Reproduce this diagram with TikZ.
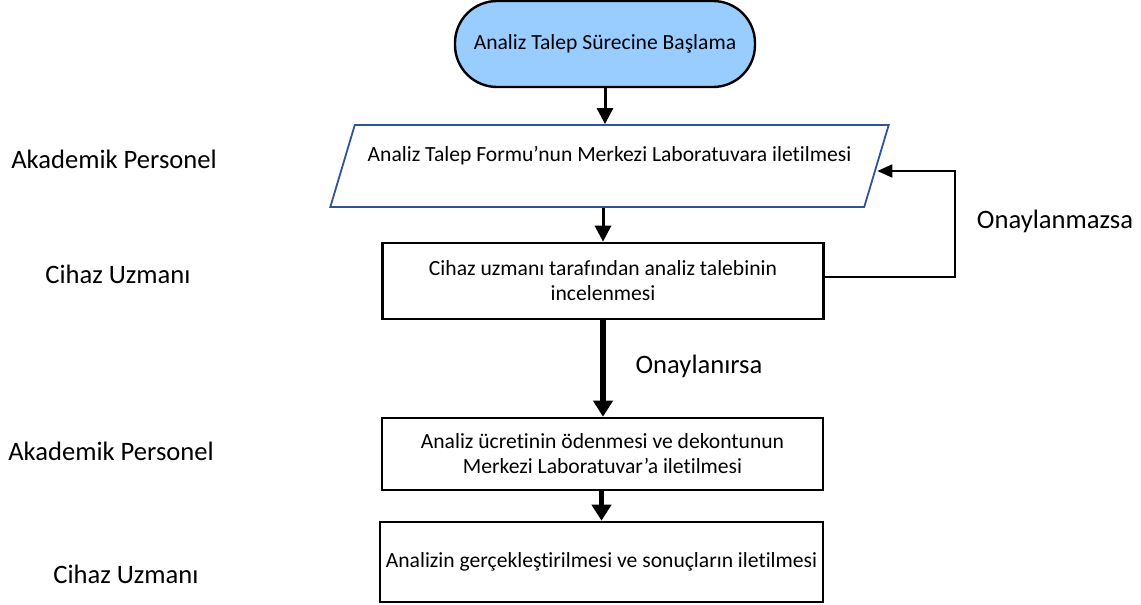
\documentclass[tikz,border=0pt]{standalone}
\usepackage{fontspec}
\setmainfont{Carlito}[Ligatures={TeX,NoCommon}]
\usetikzlibrary{arrows.meta,shapes.geometric}
\definecolor{termfill}{RGB}{153,204,255}
\definecolor{ioblue}{RGB}{47,85,151}

\begin{document}
\begin{tikzpicture}[x=0.5pt,y=-0.5pt,
	terminal/.style={draw, line width=1.2pt, fill=termfill, rounded corners=21pt, minimum width=150pt, minimum height=43pt, inner sep=0pt, font=\fontsize{10.8}{12.5}\selectfont},
	io/.style={trapezium, trapezium left angle=60, trapezium right angle=120, trapezium stretches=true, draw=ioblue, line width=0.9pt, minimum width=279.5pt, minimum height=41pt, inner sep=0pt, align=center, font=\fontsize{10.8}{12.5}\selectfont},
	process/.style={draw, line width=1.3pt, minimum width=220.5pt, inner sep=0pt, align=center, font=\fontsize{10.8}{12.5}\selectfont},
	role/.style={inner sep=0pt, font=\fontsize{13.3}{16}\selectfont},
	>=Triangle
	]
	\useasboundingbox (0,0) rectangle (1141,605);
	
	%-----------------------
	% Row heights (pixels from the top)
	%-----------------------
	\def\hstart{44}     % start terminal
	\def\hform{166}     % request form
	\def\hcheck{281}    % review by the device expert
	\def\hpay{454}      % payment
	\def\hrun{562}      % analysis
	
	%-----------------------
	% Flow chart column
	%-----------------------
	\node[terminal] (start) at (605,\hstart) {Analiz Talep Sürecine Başlama};
	\node[io] (form) at (609.5,\hform) {Analiz Talep Formu’nun Merkezi Laboratuvara iletilmesi\\\mbox{}};
	\node[process, minimum height=38pt] (check) at (603,\hcheck) {Cihaz uzmanı tarafından analiz talebinin\\incelenmesi};
	\node[process, minimum height=36pt] (pay) at (602.5,\hpay) {Analiz ücretinin ödenmesi ve dekontunun\\Merkezi Laboratuvar’a iletilmesi};
	\node[process, minimum height=40pt, minimum width=221.5pt] (run) at (601.5,\hrun) {Analizin gerçekleştirilmesi ve sonuçların iletilmesi};
	
	%-----------------------
	% Roles (left) and decisions
	%-----------------------
	\node[role] (roleA1) at (114,159) {Akademik Personel};
	\node[role] (roleC1) at (118,274) {Cihaz Uzmanı};
	\node[role] (roleA2) at (111,451) {Akademik Personel};
	\node[role] (roleC2) at (126,574) {Cihaz Uzmanı};
	\node[role] (no)  at (1055,221) {Onaylanmazsa};
	\node[role] (yes) at (699,366) {Onaylanırsa};
	
	%-----------------------
	% Connections
	%-----------------------
	\tikzset{
		thinflow/.style={->, line width=1.5pt, >={Triangle[width=8pt,length=8pt]}},
		thickflow/.style={->, line width=2.7pt, >={Triangle[width=9.5pt,length=8pt]}},
		backflow/.style={->, line width=0.9pt, >={Triangle[width=6.5pt,length=7.5pt]}}
	}
	
	\draw[thinflow] (start.south) -- (start.south |- form.north);
	\draw[thinflow] (form.south -| check.north) -- (check.north);
	\draw[thickflow] (check.south) -- (check.south |- pay.north);
	\draw[thickflow] (pay.south -| run.north) -- (run.north);
	
	% not approved: back to the form
	\coordinate (loop) at (955,171);
	\draw[backflow] ([yshift=2]check.east) -| (loop) -- (loop -| form.east);
	
\end{tikzpicture}
\end{document}
